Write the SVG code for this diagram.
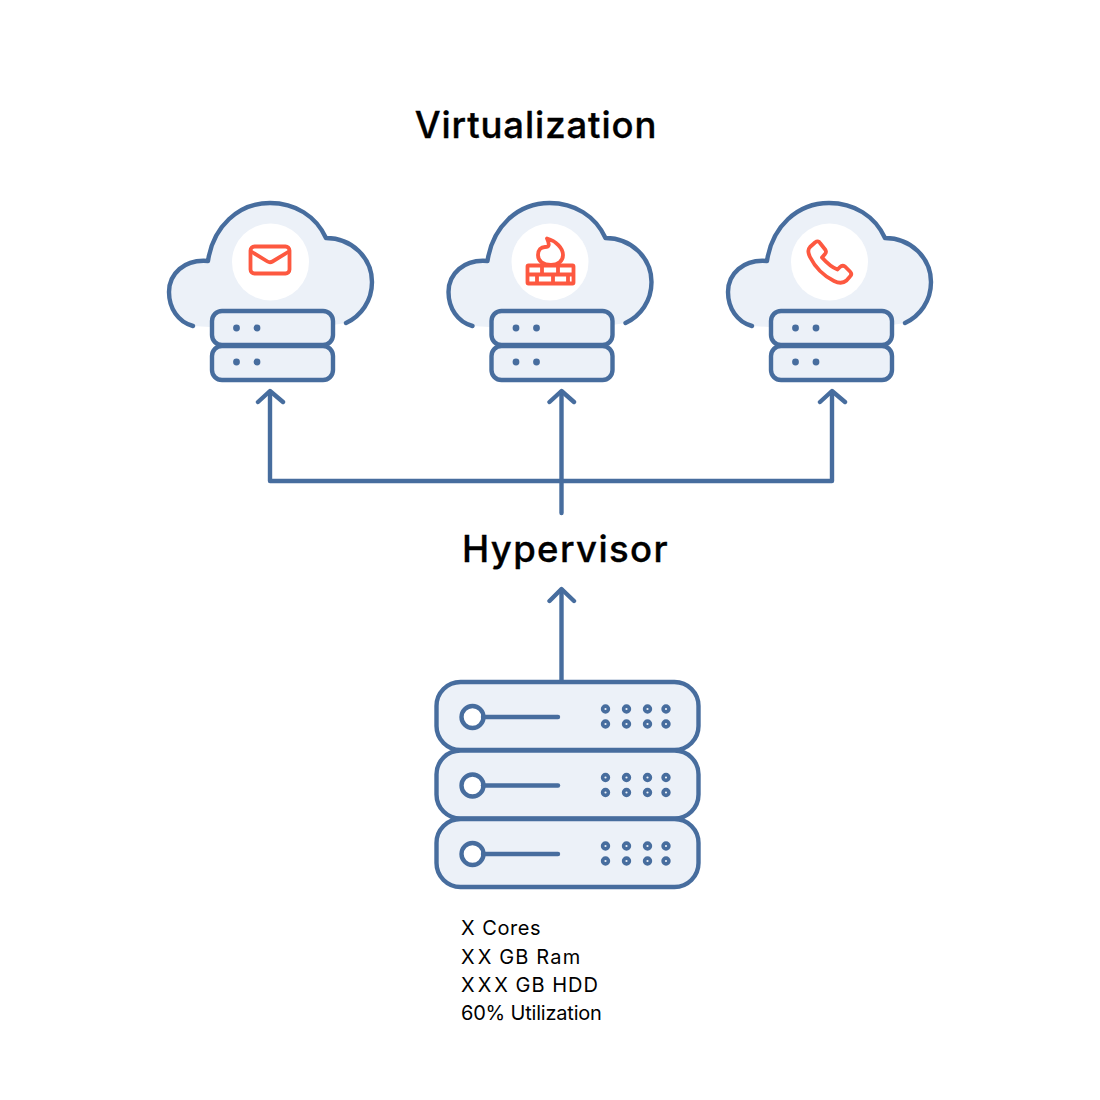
<svg xmlns="http://www.w3.org/2000/svg" xmlns:xlink="http://www.w3.org/1999/xlink" width="1100" height="1100" viewBox="0 0 1100 1100">
<style>
.s{fill:none;stroke:#476d9e;stroke-width:4.400;stroke-linecap:round;stroke-linejoin:round}
.b{fill:#ecf1f8;stroke:#476d9e;stroke-width:4.400;stroke-linejoin:round}
.d{fill:#476d9e}
.r{fill:none;stroke:#fd5840;stroke-width:3.800;stroke-linecap:round;stroke-linejoin:round}
.t{font-family:"Inter","Liberation Sans",sans-serif;fill:#000}
.h{font-size:36.500px;font-weight:500;stroke:#000;stroke-width:0.350px}
.l{font-size:20px}
</style>
<defs>
<g id="cloud">
<path d="M193 326C178 322 168 308 168 292C168 274 184 259 208 261C213 227 238 202 270 202C295 202 316 216 326 238C352 238 372 258 372 282C372 301 361 316 346 323L320 327H210Z" fill="#ecf1f8"/>
<path class="s" d="M193 326C178 322 169 308 169 292C169 274 184 259 208 261C213 227 238 203 270 203C295 203 316 216 326 238C352 238 372 258 372 282C372 301 361 316 346 323" stroke-linecap="butt"/>
<circle cx="270.500" cy="262" r="38.500" fill="#fff"/>
<rect class="b" x="212" y="311" width="121" height="34" rx="10"/>
<rect class="b" x="212" y="346" width="121" height="34" rx="10"/>
<circle class="d" cx="236.500" cy="328" r="3.400"/><circle class="d" cx="257" cy="328" r="3.400"/>
<circle class="d" cx="236.500" cy="362" r="3.400"/><circle class="d" cx="257" cy="362" r="3.400"/>
</g>
<g id="dots">
<g id="dotpair">
<circle cx="0" cy="0" r="2.900" fill="#ecf1f8" stroke="#476d9e" stroke-width="3.600"/><circle cx="0" cy="15" r="2.900" fill="#ecf1f8" stroke="#476d9e" stroke-width="3.600"/>
</g>
<use xlink:href="#dotpair" href="#dotpair" x="21"/><use xlink:href="#dotpair" href="#dotpair" x="42"/><use xlink:href="#dotpair" href="#dotpair" x="60.500"/>
</g>
<g id="unit">
<rect class="b" x="436.500" y="682" width="262" height="68" rx="24"/>
<circle cx="472.500" cy="717" r="11" fill="#fff" stroke="#476d9e" stroke-width="4.400"/>
<path class="s" d="M483 717H558"/>
<use xlink:href="#dots" href="#dots" x="605.500" y="709"/>
</g>
</defs>
<text class="t h" x="536" y="138" text-anchor="middle" letter-spacing="0.900">Virtualization</text>
<g id="cloud-mail"><use xlink:href="#cloud" href="#cloud"/>
<rect class="r" x="250.500" y="246.500" width="39" height="27" rx="4"/>
<path class="r" d="M252 252L267.500 261.500Q270 263 272.500 261.500L288 252"/></g>
<g id="cloud-firewall"><use xlink:href="#cloud" href="#cloud" x="279.500"/>
<path class="r" d="M547 238.500C556 241 563 248 563 255C563 261 558 265 551 265C543 265 538 261 538 255C538 250 541 247 545 247C549 247 550 245 547 238.500Z"/>
<rect class="r" x="527.500" y="265.500" width="46" height="18" rx="1"/>
<path class="r" d="M528 274.500H573M542 266V274M558 266V274M537 275V283M553 275V283M568 275V283" stroke-linecap="butt"/></g>
<g id="cloud-phone"><use xlink:href="#cloud" href="#cloud" x="559"/>
<path class="r" d="M810 247L815 242.500C817 241 819 241 820 243L825.500 250C826.500 252 826 253 825 254L822 257.500C826 262 832 267.500 837.500 269.500L840 267C841.500 265.500 843.500 265.500 845 266.500L850 271.500C851.500 273 851.500 275 850 276.500L846.500 280.500C843 283.500 839 283.500 834 281C824 276 815 267 810 257C808 253 808 249 810 247Z"/></g>
<g id="connectors">
<path class="s" d="M270 392V481H832V392M561.500 513V392M561.500 680V590" stroke-linecap="butt"/>
<path class="s" d="M258 402L270 391L283 402M549.500 402L561.500 391L574 402M820 402L832 391L845 402M549.500 601L561.500 589L574 601"/>
</g>
<text class="t h" x="565.500" y="562" text-anchor="middle" letter-spacing="1.400">Hypervisor</text>
<g id="server">
<use xlink:href="#unit" href="#unit"/>
<use xlink:href="#unit" href="#unit" y="68.500"/>
<use xlink:href="#unit" href="#unit" y="137"/>
</g>
<g id="specs">
<text class="t l" x="461" y="935"><tspan letter-spacing="1.500">X</tspan><tspan letter-spacing="0.550"> Cores</tspan></text>
<text class="t l" x="461" y="964"><tspan letter-spacing="3">X</tspan><tspan letter-spacing="1">X</tspan><tspan letter-spacing="1.200"> GB Ram</tspan></text>
<text class="t l" x="461" y="992"><tspan letter-spacing="3">XX</tspan><tspan letter-spacing="1">X</tspan><tspan letter-spacing="1"> GB HDD</tspan></text>
<text class="t l" x="461" y="1020" letter-spacing="-0.200">60% Utilization</text>
</g>
</svg>
